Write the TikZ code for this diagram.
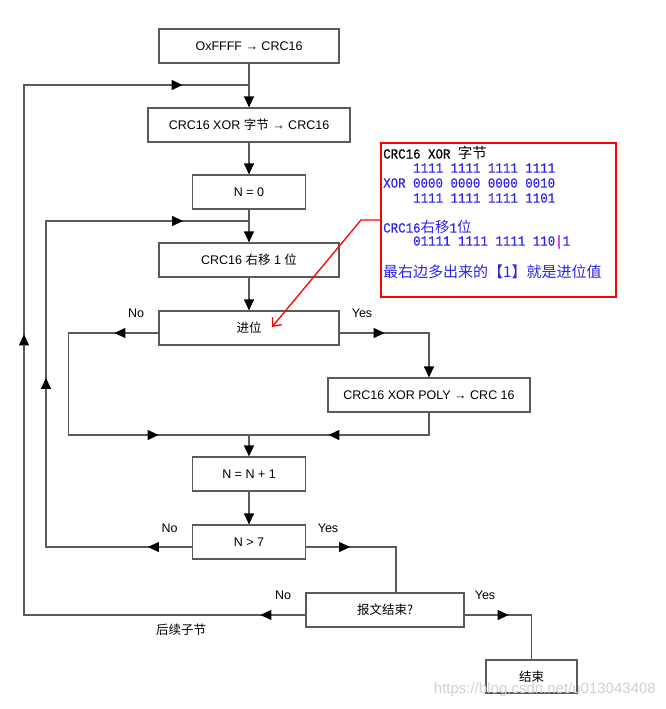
\documentclass[tikz,border=0pt]{standalone}
\usepackage{fontspec}
\setmainfont{Liberation Sans}
\newfontfamily\cjk{Noto Sans CJK SC}
\newfontfamily\mono[FakeBold=0.3,FakeStretch=0.89]{Liberation Mono}
\usetikzlibrary{arrows.meta,decorations.markings}
\definecolor{linecol}{RGB}{90,90,90}
\definecolor{notetxt}{RGB}{45,35,235}
\definecolor{barcol}{RGB}{190,30,200}
\tikzset{
  fbox/.style={draw=linecol, line width=1.2pt, fill=white, inner sep=0pt,
    font=\fontsize{12.5}{14}\selectfont, text=black},
  flow/.style={draw=linecol, line width=1.2pt},
  >={Triangle[length=11pt,width=10pt,color=black]},
  tipend/.style={-{Triangle[length=11pt,width=10pt,color=black]}},
  marr/.style={postaction={decorate,decoration={markings,mark=at position #1 with {\arrow{>}}}}},
  lbl/.style={font=\fontsize{12.5}{14}\selectfont, inner sep=0pt},
  notetext/.style={anchor=west, inner sep=0pt, text=notetxt, font=\mono\fontsize{14}{16}\selectfont},
}
\begin{document}
\begin{tikzpicture}[x=1pt,y=-1pt]
\fill[white] (0,0) rectangle (665,709);
\useasboundingbox (0,0) rectangle (665,709);

% flow boxes
\node[fbox, minimum width=180pt, minimum height=34pt] (b1) at (249,46) {OxFFFF → CRC16};
\node[fbox, minimum width=202pt, minimum height=34pt] (b2) at (249,125) {CRC16 XOR {\cjk 字节} → CRC16};
\node[fbox, minimum width=113pt, minimum height=34pt] (b3) at (249,192) {N = 0};
\node[fbox, minimum width=180pt, minimum height=34pt] (b4) at (249,260) {CRC16 {\cjk 右移} 1 {\cjk 位}};
\node[fbox, minimum width=180pt, minimum height=34pt] (b5) at (249,328) {{\cjk 进位}};
\node[fbox, minimum width=202pt, minimum height=34pt] (b6) at (429,395) {CRC16 XOR POLY → CRC 16};
\node[fbox, minimum width=113pt, minimum height=34pt] (b7) at (249,474) {N = N + 1};
\node[fbox, minimum width=113pt, minimum height=34pt] (b8) at (249,542) {N > 7};
\node[fbox, minimum width=158pt, minimum height=34pt] (b9) at (385,610) {{\cjk 报文结束?}};
\node[fbox, minimum width=91pt, minimum height=33pt] (b10) at (531.5,676.5) {{\cjk 结束}};

% junctions and corners
\coordinate (j1) at (249,85);
\coordinate (j2) at (249,221);
\coordinate (j3) at (249,435);
\coordinate (lA) at (24,85);
\coordinate (lB) at (46,221);
\coordinate (lC) at (68.5,435);

% main vertical connectors
\draw[flow,tipend] (b1) -- (b2);
\draw[flow,tipend] (b2) -- (b3);
\draw[flow,tipend] (b3) -- (b4);
\draw[flow,tipend] (b4) -- (b5);
\draw[flow,tipend] (j3) -- (b7);
\draw[flow,tipend] (b7) -- (b8);

% loops
\draw[flow, marr=45pt, marr=562pt, marr=970pt] ([yshift=-5pt]b9.west) -| (lA) -- (j1);
\draw[flow, marr=44pt, marr=315pt, marr=609pt] ([yshift=-5pt]b8.west) -| (lB) -- (j2);
\draw[flow, marr=44pt, marr=282pt] ([yshift=-5pt]b5.west) -| (lC) -- (j3);
\draw[flow, tipend, marr=45pt] ([yshift=-5pt]b5.east) -| (b6.north);
\draw[flow, marr=123pt] (b6.south) |- (j3);
\draw[flow, marr=44pt] ([yshift=-5pt]b8.east) -| ([xshift=11pt]b9.north);
\draw[flow, marr=44pt] ([yshift=-5pt]b9.east) -| (b10.north);

% labels
\node[lbl] (no1) at (136,313) {No};
\node[lbl] (yes1) at (362,313) {Yes};
\node[lbl] (no2) at (169.5,528) {No};
\node[lbl] (yes2) at (328,528) {Yes};
\node[lbl] (no3) at (283,595) {No};
\node[lbl] (yes3) at (485,595) {Yes};
\node[lbl, font=\cjk\fontsize{12.5}{14}\selectfont] (next) at (181,630) {后续子节};

% note box
\node[draw=red, line width=2pt, minimum width=235pt, minimum height=154pt, inner sep=0pt] (note) at (498.5,220) {};
\node[notetext, text=black] (n1) at (383,153) {CRC16 XOR {\cjk\fontsize{14.5}{16}\selectfont 字节}};
\node[notetext] (n2) at (413,168) {1111 1111 1111 1111};
\node[notetext] (n3) at (383,183) {XOR 0000 0000 0000 0010};
\node[notetext] (n4) at (413,198) {1111 1111 1111 1101};
\node[notetext] (n5) at (383,227) {CRC16{\cjk\fontsize{14.5}{16}\selectfont 右移}1{\cjk\fontsize{14.5}{16}\selectfont 位}};
\node[notetext] (n6) at (413,242) {01111 1111 1111 110{\color{barcol}|}1};
\node[notetext, font=\cjk\fontsize{15}{17}\selectfont] (n7) at (383,272) {最右边多出来的【1】就是进位值};

% red pointer
\coordinate (rb) at (361,220);
\coordinate (rt) at (272,327);
\draw[red, line width=1.3pt, -{Straight Barb[length=7pt,width=12pt]}] (note.west) -- (rb) -- (rt);

% watermark
\node[anchor=east, inner sep=0pt, text=black!18, font=\fontsize{15}{17}\selectfont] (wm) at (656,690) {https://blog.csdn.net/u013043408};
\end{tikzpicture}
\end{document}
